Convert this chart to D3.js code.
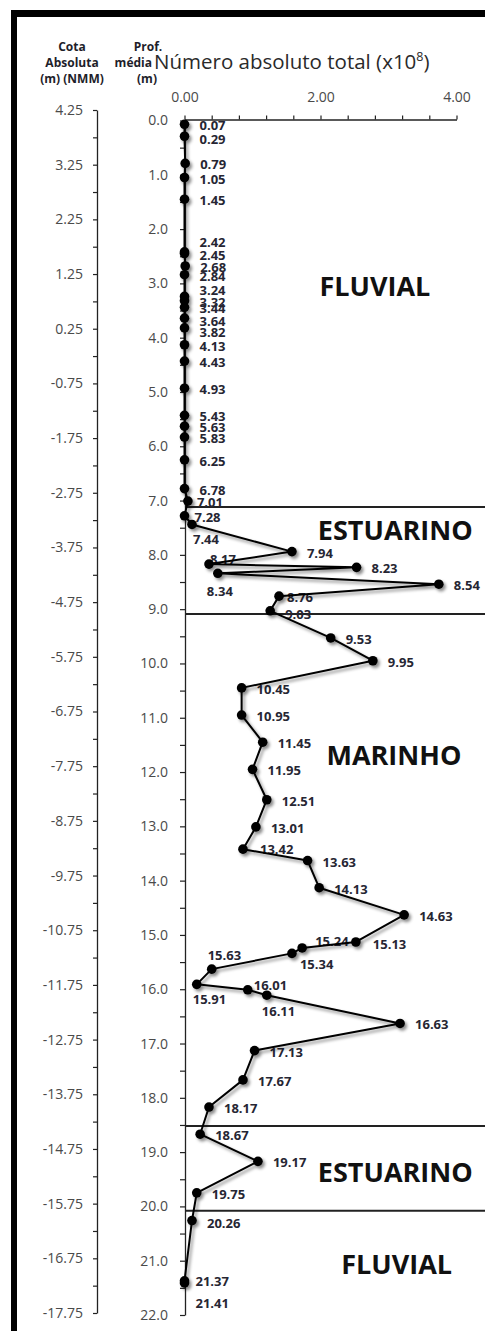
<!DOCTYPE html>
<html>
<head>
<meta charset="utf-8">
<script src="https://cdn.jsdelivr.net/npm/d3@7"></script>
<style>
  html, body { margin: 0; padding: 0; background: #fff; }
  svg { display: block; }
  text { font-family: "Open Sans", "Liberation Sans", sans-serif; }
</style>
</head>
<body>
<svg id="chart" width="485" height="1331"></svg>
<script>
// Average sample depth (m)
const depths = [0.07, 0.29, 0.79, 1.05, 1.45, 2.42, 2.45, 2.68, 2.84, 3.24, 3.32, 3.44,
  3.64, 3.82, 4.13, 4.43, 4.93, 5.43, 5.63, 5.83, 6.25, 6.78, 7.01, 7.28, 7.44, 7.94,
  8.17, 8.23, 8.34, 8.54, 8.76, 9.03, 9.53, 9.95, 10.45, 10.95, 11.45, 11.95, 12.51,
  13.01, 13.42, 13.63, 14.13, 14.63, 15.13, 15.24, 15.34, 15.63, 15.91, 16.01, 16.11,
  16.63, 17.13, 17.67, 18.17, 18.67, 19.17, 19.75, 20.26, 21.37, 21.41];

// Total absolute number per sample (x10^8)
const totals = [0.00, 0.00, 0.01, 0.00, 0.00, 0.00, 0.00, 0.01, 0.00, 0.00, 0.00, 0.00,
  0.00, 0.00, 0.00, 0.00, 0.00, 0.00, 0.00, 0.00, 0.00, 0.00, 0.05, 0.00, 0.11, 1.58,
  0.36, 2.53, 0.49, 3.74, 1.39, 1.26, 2.15, 2.77, 0.84, 0.84, 1.15, 1.00, 1.21,
  1.05, 0.86, 1.81, 1.98, 3.23, 2.52, 1.73, 1.58, 0.40, 0.18, 0.93, 1.21,
  3.17, 1.03, 0.86, 0.36, 0.23, 1.08, 0.18, 0.11, 0.00, 0.00];

// Axis ticks
const totalTicks = [0, 0.4, 0.8, 1.2, 1.6, 2.0, 2.4, 2.8, 3.2, 3.6, 4.0];
const totalTickLabels = [0, 2, 4];
const depthTickLabels = [0, 1, 2, 3, 4, 5, 6, 7, 8, 9, 10, 11, 12, 13, 14, 15, 16, 17, 18, 19, 20, 21, 22];
const cotaTickLabels = [4.25, 3.25, 2.25, 1.25, 0.25, -0.75, -1.75, -2.75, -3.75, -4.75, -5.75,
  -6.75, -7.75, -8.75, -9.75, -10.75, -11.75, -12.75, -13.75, -14.75, -15.75, -16.75, -17.75];

// Depositional environments and the depths (m) that separate them
const faciesNames = ["FLUVIAL", "ESTUARINO", "MARINHO", "ESTUARINO", "FLUVIAL"];
const faciesBoundaries = [7.12, 9.09, 18.52, 20.08];

// ---- layout ----
const W = 485, H = 1331;
const svg = d3.select("#chart");

const x = d3.scaleLinear().domain([0, 4]).range([184.5, 456.5]);
const y = d3.scaleLinear().domain([0, 22]).range([120.5, 1315]);
const cota = d3.scaleLinear().domain([4.25, -17.75]).range([110, 1313]);

// where each environment name sits, in chart units (value, depth)
const faciesLabelAt = [[2.8, 3.03], [3.1, 7.54], [3.08, 11.68], [3.1, 19.35], [3.12, 21.06]];

// data-label nudges in px relative to the point; default is to the right
const labelNudge = {
  "0.29": [15, 3], "2.42": [15, -10], "3.24": [15, -6], "3.64": [15, 3], "3.82": [15, 4],
  "7.01": [9, 1], "7.28": [10, 1], "7.44": [1, 15], "8.17": [1, -5], "8.34": [-11, 18],
  "8.76": [8, 1], "9.03": [15, 3], "13.42": [17, 0], "15.13": [17, 2], "15.24": [13, -7],
  "15.34": [8, 11], "15.63": [-4, -14], "15.91": [-4, 15], "16.01": [6, -5], "16.11": [-5, 16],
  "20.26": [15, 2], "21.37": [11, 0], "21.41": [11, 20]
};

// soft shadow behind the profile
const defs = svg.append("defs");
defs.append("filter").attr("id", "shade")
  .attr("x", "-10%").attr("y", "-10%").attr("width", "130%").attr("height", "130%")
  .append("feDropShadow")
  .attr("dx", 2.2).attr("dy", 2.5).attr("stdDeviation", 1.6)
  .attr("flood-color", "#000").attr("flood-opacity", 0.45);

// frame edges
svg.append("rect").attr("x", 11).attr("y", 10).attr("width", W - 11).attr("height", 7).attr("fill", "#000");
svg.append("rect").attr("x", 11).attr("y", 10).attr("width", 6).attr("height", H - 10).attr("fill", "#000");

// headers
const hdr = svg.append("g").attr("font-weight", 700).attr("font-size", 12).attr("fill", "#1e1e2a");
[["Cota", 51], ["Absoluta", 67], ["(m) (NMM)", 83]].forEach(([t, yy]) =>
  hdr.append("text").attr("x", 72).attr("y", yy).attr("text-anchor", "middle").text(t));
hdr.append("text").attr("x", 148).attr("y", 51).attr("text-anchor", "middle").text("Prof.");
hdr.append("text").attr("x", 152).attr("y", 67).attr("text-anchor", "end").text("média");
hdr.append("text").attr("x", 147).attr("y", 83).attr("text-anchor", "middle").text("(m)");

const title = svg.append("text").attr("x", 154).attr("y", 69)
  .attr("font-size", 20.5).attr("fill", "#2a2a2a");
title.append("tspan").text("Número absoluto total (x10");
title.append("tspan").attr("font-size", 12.5).attr("dy", -8).text("8");
title.append("tspan").attr("dy", 8).text(")");

// cota axis
const cotaMinor = [];
cotaTickLabels.forEach((v, i) => { cotaMinor.push(v); if (i < cotaTickLabels.length - 1) cotaMinor.push(v - 0.5); });
const gCota = svg.append("g").attr("transform", "translate(97,0)")
  .call(d3.axisLeft(cota).tickValues(cotaMinor).tickSizeInner(4).tickSizeOuter(0).tickPadding(10)
    .tickFormat(d => cotaTickLabels.includes(d) ? d.toFixed(2) : ""));

// depth axis
const depthMinor = [];
depthTickLabels.forEach((v, i) => { depthMinor.push(v); if (i < depthTickLabels.length - 1) depthMinor.push(v + 0.5); });
const gDepth = svg.append("g").attr("transform", "translate(185,0)")
  .call(d3.axisLeft(y).tickValues(depthMinor).tickSizeInner(5).tickSizeOuter(0).tickPadding(12)
    .tickFormat(d => depthTickLabels.includes(d) ? d.toFixed(1) : ""));

// value axis on top
const gTop = svg.append("g").attr("transform", "translate(0,119.5)")
  .call(d3.axisTop(x).tickValues(totalTicks).tickSizeInner(4).tickSizeOuter(0).tickPadding(14)
    .tickFormat(d => totalTickLabels.some(t => Math.abs(t - d) < 1e-9) ? d.toFixed(2) : ""));

[gCota, gDepth, gTop].forEach(g => {
  g.selectAll("path.domain").attr("stroke", "#222").attr("stroke-width", 1.3);
  g.selectAll(".tick line").attr("stroke", "#222").attr("stroke-width", 1.2);
  g.selectAll("text").attr("font-size", 14).attr("fill", "#4a4a4a")
    .attr("font-family", "'Open Sans', sans-serif");
});

// environment boundaries
svg.append("g").selectAll("line").data(faciesBoundaries).join("line")
  .attr("x1", 185).attr("x2", W)
  .attr("y1", d => y(d)).attr("y2", d => y(d))
  .attr("stroke", "#222").attr("stroke-width", 2);

// environment names
svg.append("g").selectAll("text").data(faciesNames).join("text")
  .attr("x", (d, i) => x(faciesLabelAt[i][0]))
  .attr("y", (d, i) => y(faciesLabelAt[i][1]))
  .attr("text-anchor", "middle").attr("dominant-baseline", "central")
  .attr("font-size", 27).attr("font-weight", 700).attr("fill", "#111")
  .attr("font-family", "Lato, 'Open Sans', sans-serif")
  .text(d => d);

const points = depths.map((d, i) => ({ depth: d, total: totals[i], label: d.toFixed(2) }));

// depth labels beside each sample
svg.append("g").selectAll("text").data(points).join("text")
  .attr("x", p => x(p.total) + (labelNudge[p.label] || [15, 1])[0])
  .attr("y", p => y(p.depth) + (labelNudge[p.label] || [15, 1])[1])
  .attr("dominant-baseline", "central")
  .attr("font-size", 13).attr("font-weight", 700).attr("fill", "#262633")
  .text(p => p.label);

// profile line and sample points
const series = svg.append("g").attr("filter", "url(#shade)");
series.append("path").datum(points)
  .attr("fill", "none").attr("stroke", "#000").attr("stroke-width", 2)
  .attr("stroke-linejoin", "round")
  .attr("d", d3.line().x(p => x(p.total)).y(p => y(p.depth)));
series.selectAll("circle").data(points).join("circle")
  .attr("cx", p => x(p.total)).attr("cy", p => y(p.depth))
  .attr("r", 4.8).attr("fill", "#000");
</script>
</body>
</html>
